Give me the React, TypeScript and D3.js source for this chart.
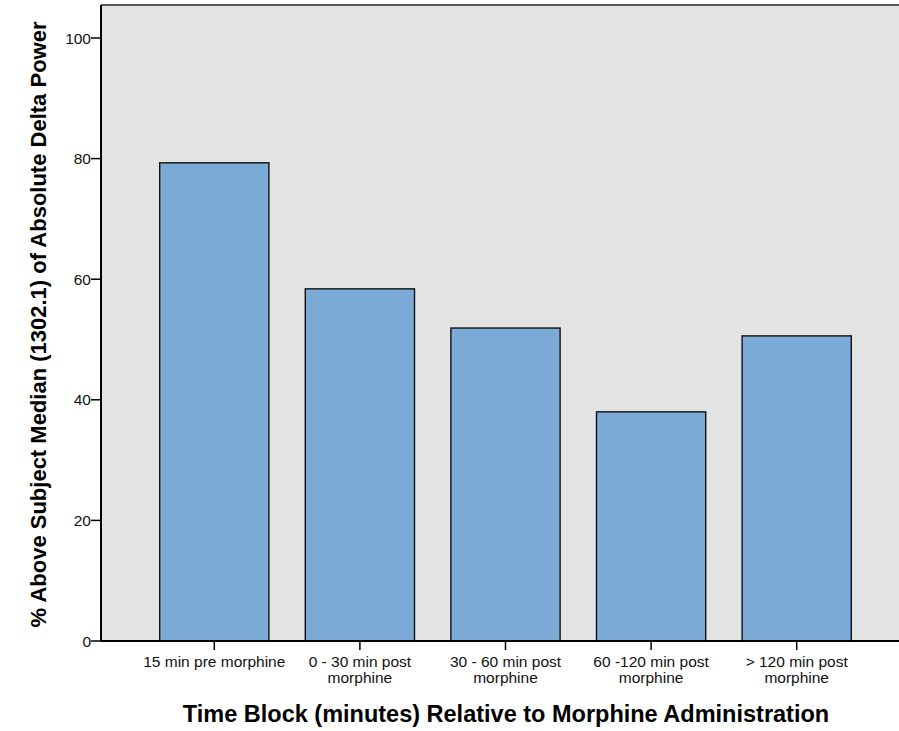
import React, { useEffect, useRef } from "react";
import * as d3 from "d3";

const categories: string[][] = [
  ["15 min pre morphine"],
  ["0 - 30 min post", "morphine"],
  ["30 - 60 min post", "morphine"],
  ["60 -120 min post", "morphine"],
  ["> 120 min post", "morphine"],
];
const values: number[] = [79.3, 58.4, 51.9, 38.0, 50.6];
const yTicks: number[] = [0, 20, 40, 60, 80, 100];
const xTitle = "Time Block (minutes) Relative to Morphine Administration";
const yTitle = "% Above Subject Median (1302.1) of Absolute Delta Power";

export default function App() {
  const ref = useRef<SVGSVGElement>(null);
  useEffect(() => {
    const svg = d3.select(ref.current);
    svg.selectAll("*").remove();
    const left = 101, right = 910, top = 5, bottom = 641;
    const keys = categories.map((_, i) => String(i));
    const x = d3.scaleBand().domain(keys).range([141.5, 869.5]).paddingInner(0.25).paddingOuter(0.125);
    const y = d3.scaleLinear().domain([0, 100]).range([bottom, 38]);
    const font = "'Liberation Sans', Arial, sans-serif";

    svg.append("rect").attr("x", left).attr("y", top).attr("width", right - left).attr("height", bottom - top).attr("fill", "#e3e3e3");
    svg.append("line").attr("x1", left).attr("x2", right).attr("y1", top).attr("y2", top).attr("stroke", "#222").attr("stroke-width", 1.5);

    svg.append("g").selectAll("rect").data(values).join("rect")
      .attr("x", (_, i) => x(keys[i])!)
      .attr("y", d => y(d))
      .attr("width", x.bandwidth())
      .attr("height", d => y(0) - y(d))
      .attr("fill", "#7baad6")
      .attr("stroke", "#111")
      .attr("stroke-width", 1.4);

    // y axis
    svg.append("line").attr("x1", left).attr("x2", left).attr("y1", top).attr("y2", bottom).attr("stroke", "#000").attr("stroke-width", 2);
    const yt = svg.append("g");
    yt.selectAll("line").data(yTicks).join("line")
      .attr("x1", left - 10).attr("x2", left).attr("y1", d => y(d)).attr("y2", d => y(d))
      .attr("stroke", "#000").attr("stroke-width", 1.5);
    yt.selectAll("text").data(yTicks).join("text")
      .attr("x", left - 10).attr("y", d => y(d) + 5.5).attr("text-anchor", "end")
      .attr("font-family", font).attr("font-size", 15.5).attr("fill", "#111").text(d => String(d));

    // x axis
    svg.append("line").attr("x1", left).attr("x2", right).attr("y1", bottom).attr("y2", bottom).attr("stroke", "#000").attr("stroke-width", 2);
    const xt = svg.append("g");
    keys.forEach((k, i) => {
      const cx = x(k)! + x.bandwidth() / 2;
      xt.append("line").attr("x1", cx).attr("x2", cx).attr("y1", bottom).attr("y2", bottom + 9).attr("stroke", "#000").attr("stroke-width", 1.5);
      categories[i].forEach((line, j) => {
        xt.append("text").attr("x", cx).attr("y", 667 + j * 16).attr("text-anchor", "middle")
          .attr("font-family", font).attr("font-size", 15.5).attr("fill", "#111").text(line);
      });
    });

    svg.append("text").attr("x", 506).attr("y", 722).attr("text-anchor", "middle")
      .attr("font-family", font).attr("font-size", 23.5).attr("font-weight", "bold").attr("fill", "#000").text(xTitle);
    svg.append("text").attr("transform", "translate(46,324.5) rotate(-90)").attr("text-anchor", "middle")
      .attr("font-family", font).attr("font-size", 22).attr("font-weight", "bold").attr("fill", "#000").text(yTitle);
  }, []);
  return (
    <div style={{ position: "absolute", left: 0, top: 0 }}>
      <svg ref={ref} width={899} height={731} style={{ display: "block", background: "#fff" }} />
    </div>
  );
}
